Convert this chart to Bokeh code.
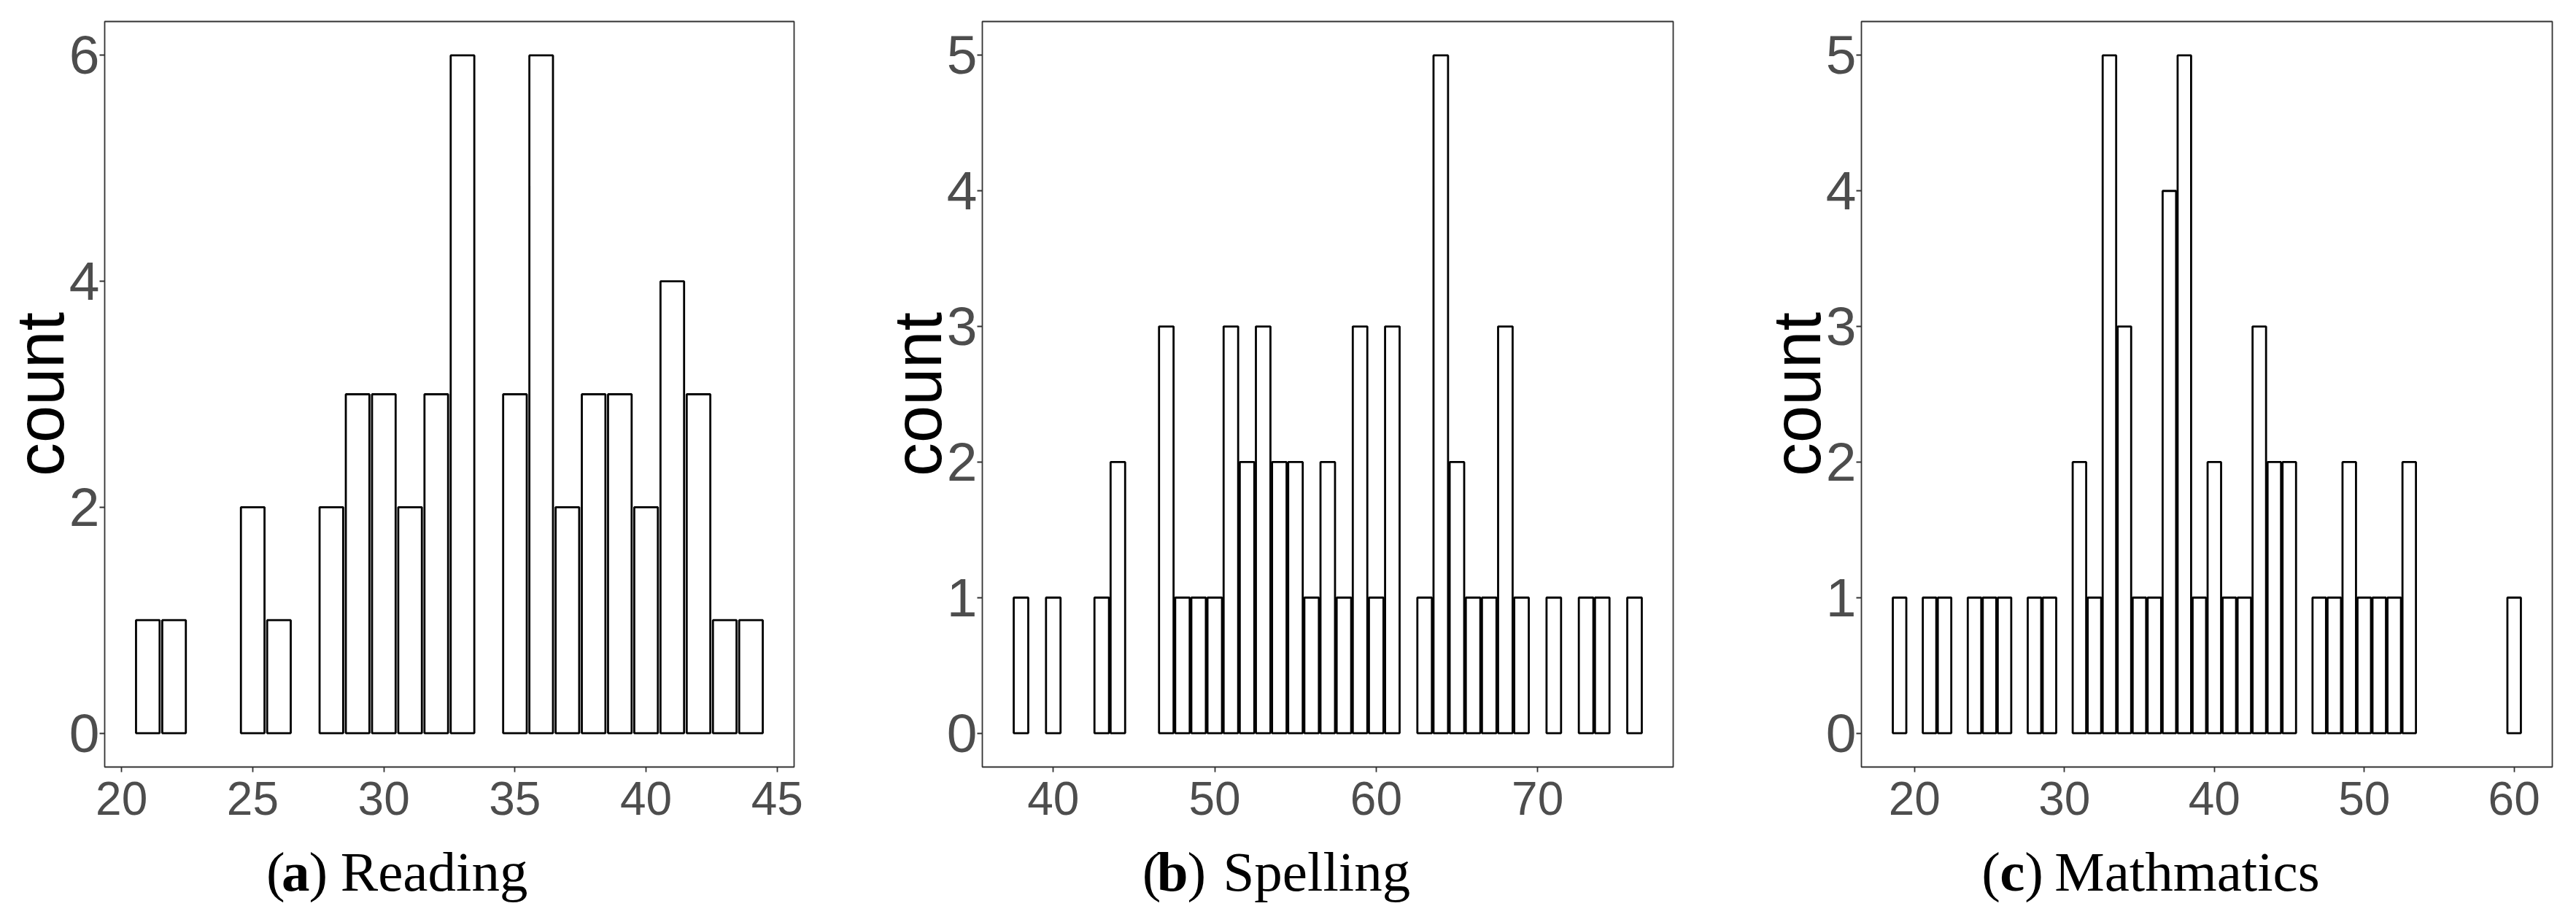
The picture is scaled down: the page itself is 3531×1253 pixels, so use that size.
from bokeh.plotting import figure
from bokeh.layouts import row, column
from bokeh.models import Range1d, FixedTicker
from bokeh.core.properties import value
from bokeh.embed import file_html
from bokeh.resources import INLINE

# ---------------- data ----------------
reading_scores = [21, 22, 25, 26, 28, 29, 30, 31, 32, 33, 35, 36, 37, 38, 39, 40, 41, 42, 43, 44]
reading_counts = [1, 1, 2, 1, 2, 3, 3, 2, 3, 6, 3, 6, 2, 3, 3, 2, 4, 3, 1, 1]

spelling_scores = [38, 40, 43, 44, 47, 48, 49, 50, 51, 52, 53, 54, 55, 56, 57, 58, 59, 60, 61,
                   63, 64, 65, 66, 67, 68, 69, 71, 73, 74, 76]
spelling_counts = [1, 1, 1, 2, 3, 1, 1, 1, 3, 2, 3, 2, 2, 1, 2, 1, 3, 1, 3,
                   1, 5, 2, 1, 1, 3, 1, 1, 1, 1, 1]

math_scores = [19, 21, 22, 24, 25, 26, 28, 29, 31, 32, 33, 34, 35, 36, 37, 38, 39, 40, 41, 42,
               43, 44, 45, 47, 48, 49, 50, 51, 52, 53, 60]
math_counts = [1, 1, 1, 1, 1, 1, 1, 1, 2, 1, 5, 3, 1, 1, 4, 5, 1, 2, 1, 1,
               3, 2, 2, 1, 1, 2, 1, 1, 1, 2, 1]

reading_xticks = [20, 25, 30, 35, 40, 45]
reading_yticks = [0, 2, 4, 6]
spelling_xticks = [40, 50, 60, 70]
spelling_yticks = [0, 1, 2, 3, 4, 5]
math_xticks = [20, 30, 40, 50, 60]
math_yticks = [0, 1, 2, 3, 4, 5]

caption_letters = ["a", "b", "c"]
caption_words = ["Reading", "Spelling", "Mathmatics"]
y_title = "count"

# ---------------- styling / layout ----------------
BAR_W = 0.9
SANS = "Liberation Sans"
SERIF = "Liberation Serif"
FRAME_W = 947
FRAME_H = 1022
TOP = 29
BOTTOM = 100
MAIN_H = TOP + FRAME_H + BOTTOM
CAP_H = 86
CAP_MID = 43      # vertical middle of caption text, from strip bottom


def caption_fig(border_left, border_right):
    # frame of the caption strip lines up with the plot frame above it
    f = figure(width=border_left + FRAME_W + border_right, height=CAP_H,
               x_range=Range1d(0, FRAME_W), y_range=Range1d(0, CAP_H),
               output_backend="svg", toolbar_location=None, title_location=None,
               x_axis_location=None, y_axis_location=None,
               min_border_left=border_left, min_border_right=border_right,
               min_border_top=0, min_border_bottom=0)
    f.outline_line_color = None
    f.grid.visible = False
    f.background_fill_color = "white"
    f.border_fill_color = "white"
    return f


def make_panel(scores, counts, xticks, yticks, letter, word,
               border_left, border_right, cap_offsets):
    lo = min(scores) - BAR_W / 2
    hi = max(scores) + BAR_W / 2
    ex = (hi - lo) * 0.05
    ymax = max(counts)
    ey = ymax * 0.05
    xr = Range1d(lo - ex, hi + ex)
    yr = Range1d(-ey, ymax + ey)

    fig_w = border_left + FRAME_W + border_right
    p = figure(width=fig_w, height=MAIN_H,
               x_range=xr, y_range=yr, output_backend="svg", toolbar_location=None,
               title_location=None,
               min_border_left=border_left, min_border_right=border_right,
               min_border_top=TOP, min_border_bottom=BOTTOM)
    p.background_fill_color = "white"
    p.border_fill_color = "white"
    p.outline_line_color = "#333333"
    p.outline_line_width = 1.8
    p.xgrid.visible = False
    p.ygrid.visible = False

    p.vbar(x=scores, top=counts, bottom=0, width=BAR_W,
           fill_color="white", line_color="black", line_width=2.8)

    for ax, ticks, fs, stand in ((p.xaxis[0], xticks, "64px", 13), (p.yaxis[0], yticks, "75px", 0)):
        ax.ticker = FixedTicker(ticks=ticks)
        ax.axis_line_color = None
        ax.major_tick_line_color = "#333333"
        ax.major_tick_line_width = 1.8
        ax.major_tick_out = 7
        ax.major_tick_in = 0
        ax.minor_tick_line_color = None
        ax.major_label_text_font = SANS
        ax.major_label_text_font_size = fs
        ax.major_label_text_color = "#4d4d4d"
        ax.major_label_standoff = stand

    ya = p.yaxis[0]
    ya.axis_label = y_title
    ya.axis_label_text_font = SANS
    ya.axis_label_text_font_size = "92px"
    ya.axis_label_text_font_style = "normal"
    ya.axis_label_text_color = "black"
    ya.axis_label_standoff = -14

    # caption "(x) Word" in a strip below, positions relative to the plot frame
    cap = caption_fig(border_left, border_right)
    pieces = [("(", "normal"), (letter, "bold"), (")", "normal"), (word, "normal")]
    for (txt, style), off in zip(pieces, cap_offsets):
        cap.text(x=[off], y=[CAP_MID], text=[txt],
                 text_font=value(SERIF), text_font_style=style,
                 text_font_size=value("77px"), text_color="black",
                 text_align="left", text_baseline="middle")
    return column(p, cap, spacing=0)


pa = make_panel(reading_scores, reading_counts, reading_xticks, reading_yticks,
                caption_letters[0], caption_words[0], 141, 81, [222, 243, 280.6, 324])
pb = make_panel(spelling_scores, spelling_counts, spelling_xticks, spelling_yticks,
                caption_letters[1], caption_words[1], 177, 53, [219.3, 239.3, 281, 330])
pc = make_panel(math_scores, math_counts, math_xticks, math_yticks,
                caption_letters[2], caption_words[2], 205, 17, [164.7, 189.7, 223.7, 264.7])

layout = row(pa, pb, pc, spacing=0)
open("out.html", "w").write(file_html(layout, INLINE))
